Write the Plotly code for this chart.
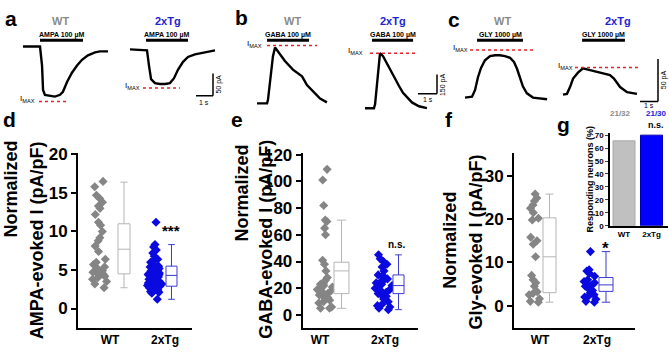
import plotly.graph_objects as go

W, H = 669, 354
FONT = "Arial, 'Liberation Sans', sans-serif"

# ===================== DATA =====================
# (a) AMPA 100 uM evoked currents: time (s) / current (pA)
a_wt_time = [0, 1.0, 1.12, 1.18, 1.29, 1.59, 1.88, 2.18, 2.35, 2.59, 2.88, 3.18, 3.47, 3.82, 4.24, 4.53, 5.0]
a_wt_curr = [0, 0, -43, -98, -109, -111, -113, -109, -102, -80, -59, -43, -30, -20, -13, -11, -11]
a_tg_time = [0, 1.0, 1.12, 1.24, 1.47, 1.76, 2.06, 2.35, 2.59, 2.82, 3.12, 3.41, 3.82, 4.29, 5.0]
a_tg_curr = [0, -2, -37, -67, -76, -78, -78, -76, -65, -46, -28, -17, -11, -7, -2]
# (b) GABA 100 uM
b_wt_time = [0, 0.53, 0.58, 0.68, 0.84, 0.95, 1.11, 1.47, 1.89, 2.37, 2.63, 3.05, 3.32, 3.68]
b_wt_curr = [0, 0, 30, 180, 368, 436, 406, 331, 263, 211, 143, 75, 38, 8]
b_tg_time = [0, 0.47, 0.53, 0.63, 0.74, 0.79, 0.95, 1.16, 1.37, 1.58, 1.79, 2.0, 2.26, 2.47, 2.84, 3.26]
b_tg_curr = [0, 0, 30, 180, 368, 429, 406, 346, 286, 233, 173, 120, 75, 45, 15, 0]
# (c) GLY 1000 uM
c_wt_time = [0, 0.39, 0.56, 0.72, 0.89, 1.11, 1.39, 1.67, 1.94, 2.22, 2.5, 2.72, 2.89, 3.06, 3.22, 3.44, 3.78, 4.56]
c_wt_curr = [0, 1, 9, 24, 35, 44, 49, 50, 50, 49, 47, 42, 34, 23, 13, 5, 0, -2]
c_tg_time = [0, 0.22, 0.39, 0.56, 0.83, 1.11, 1.67, 2.22, 2.61, 2.83, 3.0, 3.17, 3.56, 4.11]
c_tg_curr = [0, 1, 9, 19, 26, 31, 28, 25, 23, 19, 14, 9, 3, 1]

# I_MAX levels (pA)
imax_a = [-124, -87]
imax_b = [451, 429]
imax_c = [56, 32]
# drug application windows (s) [WT, 2xTg]
drug_a = [(1.0, 3.53), (0.94, 3.41)]
drug_b = [(0.53, 2.74), (0.37, 2.53)]
drug_c = [(0.67, 3.22), (1.06, 3.44)]
drug_names = ["AMPA 100 µM", "GABA 100 µM", "GLY 1000 µM"]
# scale bars: (seconds, pA)
scale_a = (1, 50)
scale_b = (1, 150)
scale_c = (1, 50)

groups = ["WT", "2xTg"]
# (d) Normalized AMPA-evoked I (pA/pF)
d_wt = [16.5, 15.8, 14.7, 14.3, 13.8, 13.3, 13.0, 12.2, 11.2, 10.8, 10.0, 9.2, 8.8, 8.1, 7.4, 6.4,
        6.0, 5.7, 5.4, 5.2, 4.9, 4.7, 4.6, 4.5, 4.4, 4.2, 4.0, 3.8, 3.5, 3.2, 2.7]
d_tg = [11.2, 8.3, 8.0, 7.6, 7.2, 6.8, 6.4, 6.2, 6.0, 5.8, 5.6, 5.5, 5.4, 5.2, 5.0, 4.9, 4.8, 4.7,
        4.6, 4.5, 4.4, 4.3, 4.2, 4.1, 4.0, 3.9, 3.8, 3.7, 3.6, 3.5, 3.4, 3.3, 3.2, 3.1, 3.0, 2.9,
        2.8, 2.7, 2.6, 2.5, 2.4, 2.3, 2.2, 2.1, 2.0, 3.6, 3.3, 2.9, 2.4, 4.4, 5.1, 1.2]
d_wt_box = [2.7, 4.5, 7.7, 11.0, 16.4]   # lower, q1, median, q3, upper
d_tg_box = [1.2, 2.9, 4.3, 5.5, 8.3]
# (e) Normalized GABA-evoked I (pA/pF)
e_wt = [109, 101, 82, 71, 70, 65, 60, 41, 38, 33, 28, 26, 24, 23, 22, 21, 20, 19, 18, 17, 16, 15,
        14, 13, 12, 11, 10, 9, 6, 5, 5]
e_tg = [45, 42, 40, 38, 36, 33, 30, 29, 28, 27, 26, 25, 24, 23, 22, 21, 20, 19, 18, 17, 16, 15,
        14, 12, 10, 8, 7, 6, 5, 4]
e_wt_box = [5, 16, 33, 39.5, 71]
e_tg_box = [4, 16, 22, 30, 45]
# (f) Normalized Gly-evoked I (pA/pF)
f_wt = [25.8, 24.9, 24.2, 23.3, 22.5, 21.5, 20.2, 19.8, 15.8, 15.0, 14.2, 11.3, 7.0, 6.0, 5.3,
        4.5, 3.2, 2.8, 2.5, 1.6, 1.0, 0.8]
f_tg = [12.5, 8.3, 8.0, 7.5, 6.8, 6.0, 5.6, 5.3, 5.0, 4.8, 4.5, 4.0, 3.5, 3.0, 2.5, 2.3, 2.0,
        1.5, 1.0, 0.8]
f_wt_box = [0.8, 3.0, 11.3, 20.3, 25.8]
f_tg_box = [0.8, 3.3, 4.8, 6.5, 12.5]
# (g) responding neurons (%)
g_pct = [65.6, 70.0]
g_counts = ["21/32", "21/30"]
sig_labels = ["***", "n.s.", "*"]

# ===================== STYLE =====================
GRAY_T = "#8a8a8a"
BLUE_T = "#2323d6"
GRAY_PT = "#858585"
BLUE_PT = "#0a0ae0"
GRAY_BOX = "#b5b5b5"
BLUE_BOX = "#3b3bd2"

fig = go.Figure()
layout = dict(width=W, height=H, margin=dict(l=0, r=0, t=0, b=0),
              paper_bgcolor="white", plot_bgcolor="rgba(0,0,0,0)",
              showlegend=False, boxmode="overlay",
              font=dict(family=FONT, color="black"))
shapes, annots = [], []


def px(x):
    return x / W


def py(y):
    return 1 - y / H


def axname(n):
    return ("xaxis", "yaxis") if n == 1 else (f"xaxis{n}", f"yaxis{n}")


def axref(n):
    return ("x", "y") if n == 1 else (f"x{n}", f"y{n}")


def text(t, x, y, size, color="black", bold=True, xanchor="center", yanchor="middle",
         angle=0, xref="paper", yref="paper", align="center"):
    annots.append(dict(text=t, x=x, y=y, xref=xref, yref=yref, showarrow=False,
                       xanchor=xanchor, yanchor=yanchor, textangle=angle, align=align,
                       font=dict(family=FONT, size=size, color=color,
                                 weight="bold" if bold else "normal")))


class TraceAx:
    def __init__(s, n, box, origin, sx, sy):
        s.n = n
        x0, x1, y0, y1 = box
        s.ox, s.oy, s.sx, s.sy = origin[0], origin[1], sx, sy
        xa, ya = axname(n)
        s.xr, s.yr = axref(n)
        layout[xa] = dict(domain=[px(x0), px(x1)], range=[s.t(x0), s.t(x1)],
                          visible=False, anchor=s.yr, fixedrange=True)
        layout[ya] = dict(domain=[py(y1), py(y0)], range=[s.i(y1), s.i(y0)],
                          visible=False, anchor=s.xr, fixedrange=True)

    def t(s, xp):
        return (xp - s.ox) / s.sx

    def i(s, yp):
        return (s.oy - yp) / s.sy


trace_specs = [
    # n, time, curr, box(px), origin(px), px/s, px/pA, imax, drug, imax span px, imax label right px
    (1, a_wt_time, a_wt_curr, (15, 118, 18, 106), (23, 40), 17, 0.46, imax_a[0], drug_a[0], (39, 68), 37),
    (2, a_tg_time, a_tg_curr, (120, 232, 18, 106), (130, 43), 17, 0.46, imax_a[1], drug_a[1], (143, 180), 142),
    (3, b_wt_time, b_wt_curr, (238, 340, 18, 108), (257, 99), 19, 0.133, imax_b[0], drug_b[0], (267, 317), 264),
    (4, b_tg_time, b_tg_curr, (345, 450, 18, 108), (365, 104), 19, 0.133, imax_b[1], drug_b[1], (370, 417), 365),
    (5, c_wt_time, c_wt_curr, (450, 555, 18, 108), (465, 93), 18, 0.88, imax_c[0], drug_c[0], (470, 535), 470),
    (6, c_tg_time, c_tg_curr, (555, 669, 18, 108), (563, 90), 18, 0.88, imax_c[1], drug_c[1], (575, 638), 575),
]
title_x = [60, 168, 292, 393, 502, 618]
tax = {}
for k, (n, tt, cc, box, org, sx, sy, imax, drug, ispan, ilab) in enumerate(trace_specs):
    ax = TraceAx(n, box, org, sx, sy)
    tax[n] = ax
    fig.add_trace(go.Scatter(x=tt, y=cc, mode="lines", xaxis=ax.xr, yaxis=ax.yr,
                             line=dict(color="black", width=2.4), hoverinfo="skip"))
    shapes.append(dict(type="line", xref=ax.xr, yref="paper", x0=drug[0], x1=drug[1],
                       y0=py(33.5), y1=py(33.5), line=dict(color="black", width=3)))
    text(drug_names[k // 2], (drug[0] + drug[1]) / 2, py(28.5), 7, xref=ax.xr)
    shapes.append(dict(type="line", xref=ax.xr, yref=ax.yr, x0=ax.t(ispan[0]), x1=ax.t(ispan[1]),
                       y0=imax, y1=imax, line=dict(color="#e8202a", width=1.5, dash="dot")))
    annots.append(dict(text="I<sub>MAX</sub>", x=px(ilab), y=imax, xref="paper", yref=ax.yr,
                       showarrow=False, xanchor="right", yanchor="middle", yshift=2,
                       font=dict(family=FONT, size=8, color="black")))
    text(groups[k % 2], px(title_x[k]), py(13.5), 11, color=GRAY_T if k % 2 == 0 else BLUE_T)

scale_specs = [(2, scale_a, (213, 91), 219, (204, 98)),
               (4, scale_b, (437, 89), 443, (428, 95)),
               (6, scale_c, (658, 97), 664, (649, 101))]
for n, (ss, pa), corner, vlab_x, hlab in scale_specs:
    ax = tax[n]
    tc, ic = ax.t(corner[0]), ax.i(corner[1])
    shapes.append(dict(type="line", xref=ax.xr, yref=ax.yr, x0=tc, x1=tc, y0=ic, y1=ic + pa,
                       line=dict(color="black", width=1.5)))
    shapes.append(dict(type="line", xref=ax.xr, yref=ax.yr, x0=tc - ss, x1=tc, y0=ic, y1=ic,
                       line=dict(color="black", width=1.5)))
    text(f"{pa} pA", px(vlab_x), ic + pa / 2, 7, bold=False, angle=-90, yref=ax.yr)
    text(f"{ss} s", px(hlab[0]), py(hlab[1]), 7, bold=False)

for lab, (lx, ly) in zip("abcdefg", [(11, 11), (241, 10), (454, 12), (9, 116), (237, 116),
                                     (449, 116), (563, 121)]):
    text(lab, px(lx), py(ly), 21)


def main_axes(n, xd, yd, xrange, yrange, dtick):
    xa, ya = axname(n)
    xr, yr = axref(n)
    layout[xa] = dict(domain=[px(xd[0]), px(xd[1])], range=xrange, anchor=yr, showline=True,
                      linewidth=2, linecolor="black", tickvals=[1, 2], ticktext=groups, ticks="",
                      tickfont=dict(family=FONT, size=12, weight="bold", color="black"),
                      showgrid=False, zeroline=False, fixedrange=True)
    layout[ya] = dict(domain=[py(yd[1]), py(yd[0])], range=yrange, anchor=xr, showline=True,
                      linewidth=2, linecolor="black", ticks="outside", ticklen=5, tickwidth=2,
                      tickcolor="black", tick0=0, dtick=dtick,
                      tickfont=dict(family=FONT, size=17, weight="bold", color="black"),
                      showgrid=False, zeroline=False, fixedrange=True)


def add_group(n, vals, stats, pts_x, pts_w, box_x, box_w, mcolor, bcolor):
    xr, yr = axref(n)
    fig.add_trace(go.Box(y=vals, x0=pts_x, width=pts_w, boxpoints="all", jitter=1, pointpos=0,
                         line=dict(width=0, color=mcolor), fillcolor="rgba(0,0,0,0)",
                         marker=dict(symbol="diamond", size=7, color=mcolor),
                         xaxis=xr, yaxis=yr, hoverinfo="skip", orientation="v"))
    lo, q1, med, q3, hi = stats
    fig.add_trace(go.Box(x=[box_x], lowerfence=[lo], q1=[q1], median=[med], q3=[q3],
                         upperfence=[hi], width=box_w, boxpoints=False, orientation="v",
                         line=dict(color=bcolor, width=1), fillcolor="white", whiskerwidth=0.6,
                         xaxis=xr, yaxis=yr, hoverinfo="skip"))


main_axes(7, (78, 192), (151, 332), [0.418, 2.491], [-2.5, 20.125], 5)
add_group(7, d_wt, d_wt_box, 0.818, 0.36, 1.255, 0.218, GRAY_PT, GRAY_BOX)
add_group(7, d_tg, d_tg_box, 1.818, 0.30, 2.118, 0.20, BLUE_PT, BLUE_BOX)
text(sig_labels[0], 2.118, 10.1, 15, xref="x7", yref="y7")
main_axes(8, (302.7, 418), (151, 332), [0.734, 2.508], [-9.59, 120.9], 20)
add_group(8, e_wt, e_wt_box, 1.085, 0.26, 1.331, 0.23, GRAY_PT, GRAY_BOX)
add_group(8, e_tg, e_tg_box, 1.985, 0.28, 2.208, 0.17, BLUE_PT, BLUE_BOX)
text(sig_labels[1], 2.17, 47, 10, xref="x8", yref="y8", yanchor="bottom")
main_axes(9, (514, 635), (151, 332), [0.544, 2.667], [-5.12, 35.19], 10)
add_group(9, f_wt, f_wt_box, 0.904, 0.26, 1.167, 0.228, GRAY_PT, GRAY_BOX)
add_group(9, f_tg, f_tg_box, 1.886, 0.26, 2.158, 0.246, BLUE_PT, BLUE_BOX)
text(sig_labels[2], 2.158, 13.2, 17, xref="x9", yref="y9")

text("Normalized", px(11.5), py(188), 18, angle=-90)
text("AMPA-evoked I (pA/pF)", px(36.5), py(241.5), 18, angle=-90)
text("Normalized", px(241.5), py(192), 18, angle=-90)
text("GABA-evoked I (pA/pF)", px(266.5), py(240), 18, angle=-90)
text("Normalized", px(450.5), py(241), 18, angle=-90)
text("Gly-evoked I (pA/pF)", px(476.5), py(243), 18, angle=-90)

layout["xaxis10"] = dict(domain=[px(610), px(668)], range=[0.49, 2.6], anchor="y10", showline=True,
                         linewidth=1.5, linecolor="black", tickvals=[1, 2], ticktext=groups,
                         ticks="", tickfont=dict(family=FONT, size=8, weight="bold", color="black"),
                         showgrid=False, zeroline=False, fixedrange=True)
layout["yaxis10"] = dict(domain=[py(226), py(129.3)], range=[0, 72], anchor="x10", showline=True,
                         linewidth=1.5, linecolor="black", ticks="outside", ticklen=3, tickwidth=1,
                         dtick=10, tickfont=dict(family=FONT, size=8, weight="bold", color="black"),
                         showgrid=False, zeroline=False, fixedrange=True)
fig.add_trace(go.Bar(x=[1, 2], y=g_pct, width=0.8, xaxis="x10", yaxis="y10", hoverinfo="skip",
                     marker=dict(color=["#c0c0c0", "#0000ff"],
                                 line=dict(color=["#a8a8a8", "#0000b0"], width=1))))
text("Responding neurons (%)", px(590), py(178), 9, angle=-90)
text(g_counts[0], px(620), py(110), 8, color=GRAY_T)
text(g_counts[1], px(656), py(110), 8, color=BLUE_T)
text(sig_labels[1], px(656), py(121), 9)

layout["shapes"] = shapes
layout["annotations"] = annots
fig.update_layout(**layout)
fig.write_html("out.html", config={"displayModeBar": False},
               post_script="document.body.style.margin='0px';")
